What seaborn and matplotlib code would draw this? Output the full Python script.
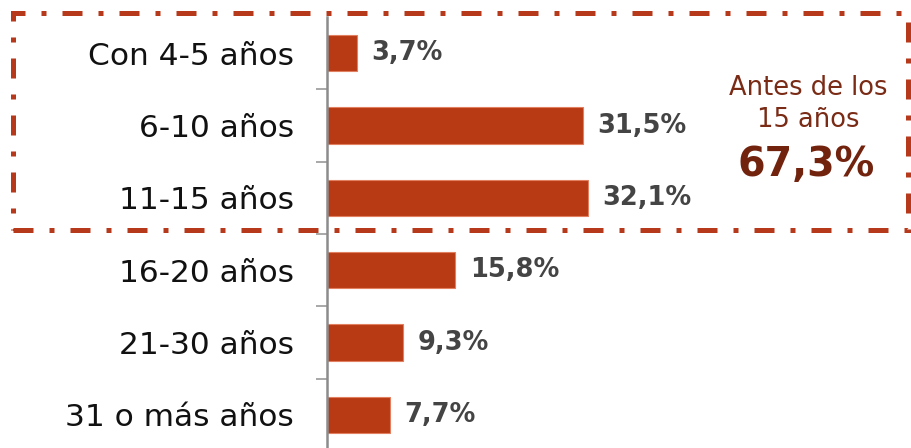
import matplotlib
matplotlib.use("Agg")
import matplotlib.pyplot as plt
from matplotlib.patches import Rectangle
import seaborn as sns
import pandas as pd

categories = ["Con 4-5 años", "6-10 años", "11-15 años", "16-20 años", "21-30 años", "31 o más años"]
values = [3.7, 31.5, 32.1, 15.8, 9.3, 7.7]
value_labels = ["3,7%", "31,5%", "32,1%", "15,8%", "9,3%", "7,7%"]
note_text = "Antes de los\n15 años"
note_value = "67,3%"

BAR = "#B83A14"
DARK = "#72230E"

sns.set_theme(style="white")
plt.rcParams["font.family"] = ["DejaVu Sans"]

fig = plt.figure(figsize=(9.11, 4.48), dpi=100)
W, H = 911, 448
ax = fig.add_axes([327 / W, 1 - 451 / H, (W - 327) / W, (451 - 17) / H])

data = pd.DataFrame({"cat": categories, "val": values})
sns.barplot(data=data, y="cat", x="val", orient="h", color=BAR, saturation=1,
            width=0.5, ax=ax, edgecolor="#E08060", linewidth=0.8)

ax.set_xlim(0, (W - 327) / 8.13)
ax.set_ylim(5.5, -0.5)
ax.set_xlabel("")
ax.set_ylabel("")
ax.set_xticks([])
# separators between categories
ax.set_yticks([i + 0.5 for i in range(len(categories) - 1)], minor=True)
ax.set_yticks(range(len(categories)))
ax.set_yticklabels(categories, fontsize=22.5, color="#111111")
ax.tick_params(axis="y", which="major", length=0, pad=24)
ax.tick_params(axis="y", which="minor", length=8, width=1.2, color="#999999", left=True)

for s in ["top", "right", "bottom"]:
    ax.spines[s].set_visible(False)
ax.spines["left"].set_color("#8C8C8C")
ax.spines["left"].set_linewidth(1.8)

for i, (v, lab) in enumerate(zip(values, value_labels)):
    ax.text(v + 1.8, i, lab, va="center", ha="left", fontsize=18.5,
            fontweight="bold", color="#444444")

fig.text(808 / W, 1 - 104 / H, note_text, ha="center", va="center",
         fontsize=18.5, color="#7A2B16", linespacing=1.3)
fig.text(806 / W, 1 - 165 / H, note_value, ha="center", va="center",
         fontsize=28.5, fontweight="bold", color=DARK)

box = Rectangle((12.5 / W, 1 - 230 / H), (908 - 12.5) / W, (230 - 13) / H,
                transform=fig.transFigure, fill=False, edgecolor="#B5391A",
                linewidth=3.6, linestyle=(0, (4, 3.2, 1, 3.2)), zorder=10)
fig.patches.append(box)

fig.savefig("out.png", dpi=100)
